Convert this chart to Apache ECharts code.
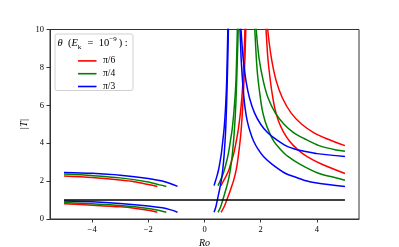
<!DOCTYPE html>
<html><head><meta charset="utf-8">
<script src="https://cdn.jsdelivr.net/npm/echarts@6/dist/echarts.min.js"></script>
<style>html,body{margin:0;padding:0;background:#fff}#c{width:399px;height:247px}</style>
</head><body><div id="c"></div>
<script>
const thetaLabels = ['π/6', 'π/4', 'π/3'];
const xTicks = [-4, -2, 0, 2, 4];
const yTicks = [0, 2, 4, 6, 8, 10];
const unityLine = [[-5, 1], [5, 1]];

// theta = pi/6 (red)
const redNegUpper = [[-5, 2.27], [-4, 2.19], [-3, 2.06], [-2.5, 1.97], [-2, 1.82], [-1.68, 1.72]];
const redNegLower = [[-5, 0.81], [-4, 0.73], [-3, 0.64], [-2.5, 0.57], [-2, 0.46], [-1.68, 0.36]];
const redRiseUpper = [[0.59, 1.76], [0.69, 2.05], [0.78, 2.3], [0.87, 2.6], [0.95, 3.0], [1.04, 3.45], [1.13, 4.1], [1.21, 4.8], [1.30, 5.9], [1.37, 7.3], [1.44, 10], [1.47, 11.5]];
const redRiseLower = [[0.59, 0.35], [0.69, 0.62], [0.78, 0.95], [0.87, 1.3], [0.95, 1.65], [1.04, 2.05], [1.13, 2.6], [1.21, 3.4], [1.30, 4.6], [1.37, 6.2], [1.44, 8.5], [1.47, 10], [1.50, 11.5]];
const redFallUpper = [[2.17, 11.5], [2.25, 10], [2.38, 8.5], [2.55, 7.3], [2.77, 6.4], [3.08, 5.6], [3.46, 5.0], [3.90, 4.55], [4.33, 4.25], [5.0, 3.87]];
const redFallLower = [[2.12, 11.5], [2.19, 10], [2.25, 8.6], [2.32, 7.6], [2.41, 6.6], [2.51, 5.8], [2.64, 5.15], [2.81, 4.6], [3.03, 4.1], [3.29, 3.7], [3.64, 3.3], [4.16, 2.9], [5.0, 2.4]];

// theta = pi/4 (green)
const greenNegUpper = [[-5, 2.37], [-4, 2.29], [-3, 2.17], [-2, 1.95], [-1.6, 1.8], [-1.36, 1.72]];
const greenNegLower = [[-5, 0.87], [-4, 0.8], [-3, 0.71], [-2, 0.56], [-1.6, 0.45], [-1.36, 0.36]];
const greenRiseUpper = [[0.48, 1.76], [0.57, 2.05], [0.64, 2.3], [0.71, 2.6], [0.78, 3.0], [0.85, 3.45], [0.92, 4.1], [0.99, 4.8], [1.06, 5.9], [1.12, 7.3], [1.17, 10], [1.20, 11.5]];
const greenRiseLower = [[0.48, 0.35], [0.57, 0.62], [0.64, 0.95], [0.71, 1.3], [0.78, 1.65], [0.85, 2.05], [0.92, 2.6], [0.99, 3.4], [1.06, 4.6], [1.12, 6.2], [1.17, 8.5], [1.20, 10], [1.22, 11.5]];
const greenFallUpper = [[1.77, 11.5], [1.84, 10], [1.94, 8.5], [2.09, 7.3], [2.26, 6.4], [2.52, 5.6], [2.83, 5.0], [3.18, 4.55], [3.54, 4.25], [4.08, 3.87], [4.69, 3.64], [5.0, 3.58]];
const greenFallLower = [[1.73, 11.5], [1.79, 10], [1.84, 8.6], [1.89, 7.6], [1.97, 6.6], [2.05, 5.8], [2.16, 5.15], [2.30, 4.6], [2.47, 4.1], [2.69, 3.7], [2.97, 3.3], [3.39, 2.9], [4.08, 2.4], [4.6, 2.2], [5.0, 2.05]];

// theta = pi/3 (blue)
const blueNegUpper = [[-5, 2.46], [-4, 2.41], [-3, 2.31], [-2, 2.14], [-1.5, 2.0], [-1.2, 1.86], [-0.96, 1.72]];
const blueNegLower = [[-5, 0.95], [-4, 0.91], [-3, 0.82], [-2, 0.69], [-1.5, 0.59], [-1.2, 0.48], [-0.96, 0.36]];
const blueRiseUpper = [[0.34, 1.76], [0.40, 2.05], [0.45, 2.3], [0.50, 2.6], [0.55, 3.0], [0.60, 3.45], [0.65, 4.1], [0.70, 4.8], [0.75, 5.9], [0.79, 7.3], [0.83, 10], [0.85, 11.5]];
const blueRiseLower = [[0.34, 0.35], [0.40, 0.62], [0.45, 0.95], [0.50, 1.3], [0.55, 1.65], [0.60, 2.05], [0.65, 2.6], [0.70, 3.4], [0.75, 4.6], [0.79, 6.2], [0.83, 8.5], [0.85, 10], [0.865, 11.5]];
const blueFallUpper = [[1.25, 11.5], [1.30, 10], [1.375, 8.5], [1.475, 7.3], [1.6, 6.4], [1.78, 5.6], [2.0, 5.0], [2.25, 4.55], [2.5, 4.25], [2.89, 3.87], [3.32, 3.64], [3.54, 3.58], [4.0, 3.45], [5.0, 3.3]];
const blueFallLower = [[1.225, 11.5], [1.265, 10], [1.3, 8.6], [1.34, 7.6], [1.39, 6.6], [1.45, 5.8], [1.525, 5.15], [1.625, 4.6], [1.75, 4.1], [1.9, 3.7], [2.1, 3.3], [2.4, 2.9], [2.89, 2.4], [3.25, 2.2], [3.54, 2.05], [4.0, 1.9], [5.0, 1.72]];

const groups = [
  { name: thetaLabels[0], color: '#ff0000', curves: [redNegUpper, redNegLower, redRiseUpper, redRiseLower, redFallUpper, redFallLower] },
  { name: thetaLabels[1], color: '#008000', curves: [greenNegUpper, greenNegLower, greenRiseUpper, greenRiseLower, greenFallUpper, greenFallLower] },
  { name: thetaLabels[2], color: '#0000ff', curves: [blueNegUpper, blueNegLower, blueRiseUpper, blueRiseLower, blueFallUpper, blueFallLower] }
];

const FONT = 'Liberation Serif';
const series = [];
groups.forEach(g => {
  g.curves.forEach(d => {
    series.push({
      type: 'line', name: g.name, data: d, symbol: 'none', smooth: 0.3,
      lineStyle: { color: g.color, width: 1.5 }, itemStyle: { color: g.color }, clip: true, animation: false
    });
  });
});
series.push({ type: 'line', name: 'unity', data: unityLine, symbol: 'none', lineStyle: { color: '#000', width: 1.5 }, itemStyle: { color: '#000' }, animation: false, z: 5 });

const chart = echarts.init(document.getElementById('c'), null, { renderer: 'canvas' });
chart.setOption({
  animation: false,
  backgroundColor: '#fff',
  grid: { left: 50, right: 40, top: 29.5, bottom: 28, show: true, borderColor: '#333', borderWidth: 1, containLabel: false, outerBoundsMode: 'none' },
  xAxis: {
    type: 'value', min: -5.5, max: 5.5,
    name: 'Ro', nameLocation: 'middle', nameGap: 19, nameMoveOverlap: false,
    nameTextStyle: { fontFamily: FONT, fontStyle: 'italic', fontSize: 10, color: '#000' },
    axisLine: { onZero: false, lineStyle: { color: '#333', width: 1 } },
    axisTick: { show: true, length: 3.5, customValues: xTicks, lineStyle: { color: '#333' } },
    axisLabel: { customValues: xTicks, margin: 6, fontFamily: FONT, fontSize: 8.5, color: '#000', formatter: v => (v < 0 ? '−' + Math.abs(v) : String(v)) },
    splitLine: { show: false }
  },
  yAxis: {
    type: 'value', min: 0, max: 10, interval: 2,
    name: '|T|', nameLocation: 'middle', nameGap: 21, nameRotate: 90, nameMoveOverlap: false,
    nameTextStyle: { fontFamily: FONT, fontStyle: 'italic', fontSize: 10, color: '#000' },
    axisLine: { show: true, onZero: false, lineStyle: { color: '#333', width: 1 } },
    axisTick: { show: true, length: 3.5, lineStyle: { color: '#333' } },
    axisLabel: { margin: 6, fontFamily: FONT, fontSize: 8.5, color: '#000' },
    splitLine: { show: false }
  },
  legend: {
    data: thetaLabels, orient: 'vertical', left: 73, top: 49.5, itemGap: 0, z: 10,
    itemWidth: 18.5, itemHeight: 1.6, icon: 'rect',
    textStyle: { fontFamily: FONT, fontSize: 9.5, color: '#000', lineHeight: 12.8, padding: [0, 0, 0, 1.5] },
    selectedMode: false
  },
  graphic: [
    { type: 'rect', left: 54.5, top: 33.5, z: 3, silent: true,
      shape: { width: 78, height: 56.5, r: 2 },
      style: { fill: 'rgba(255,255,255,0.8)', stroke: '#d0d0d0', lineWidth: 1 } },
    { type: 'text', left: 57.5, top: 35.5, z: 10, silent: true,
      style: {
        text: '{i|θ}{a|  (}{i|E}{s|k}{a|  =  10}{p|−9}{a|) :}',
        rich: {
          a: { fontFamily: FONT, fontSize: 10.5, fill: '#000', lineHeight: 15 },
          i: { fontFamily: FONT, fontSize: 10.5, fontStyle: 'italic', fill: '#000', lineHeight: 15 },
          s: { fontFamily: FONT, fontSize: 7, fill: '#000', verticalAlign: 'bottom', lineHeight: 15, padding: [5, 1, 0, 0] },
          p: { fontFamily: FONT, fontSize: 7, fill: '#000', verticalAlign: 'top', lineHeight: 15, padding: [0, 2, 5, 0] }
        }
      } }
  ],
  series: series
});
</script>
</body></html>
